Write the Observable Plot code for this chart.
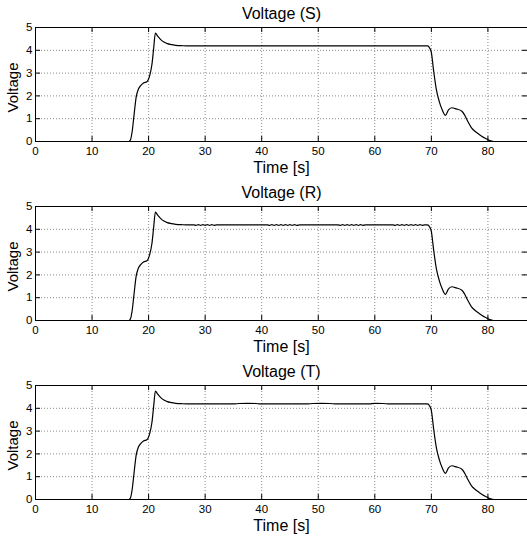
<!DOCTYPE html>
<html>
<head>
<meta charset="utf-8">
<script src="https://cdn.jsdelivr.net/npm/d3@7"></script>
<script src="https://cdn.jsdelivr.net/npm/@observablehq/plot@0.6"></script>
<style>
  body { margin: 0; background: white; }
  #chart svg { display: block; }
</style>
</head>
<body>
<div id="chart"></div>
<script>
const titles = ["Voltage (S)", "Voltage (R)", "Voltage (T)"];
const xTicks = [0, 10, 20, 30, 40, 50, 60, 70, 80];
const yTicks = [0, 1, 2, 3, 4, 5];

// S phase
const tS = [0, 16.5, 16.8, 17.1, 17.4, 17.8, 18.2, 18.6, 19.1, 19.7, 20.2, 20.6, 20.9, 21.2, 21.6, 22.1, 22.7, 23.3, 24.0, 24.8, 26.0, 27.5,
            69.3, 69.7, 70.0, 70.4, 70.9, 71.4, 71.9, 72.5, 73.0, 73.6, 74.4, 75.4, 75.9, 76.4, 77.1, 77.7, 78.4, 79.3, 80.2, 81.0, 87];
const vS = [0, 0, 0.08, 0.45, 1.1, 1.95, 2.3, 2.45, 2.57, 2.62, 2.9, 3.4, 4.1, 4.75, 4.62, 4.48, 4.36, 4.29, 4.25, 4.22, 4.2, 4.19,
            4.19, 4.1, 3.9, 3.1, 2.25, 1.75, 1.4, 1.15, 1.38, 1.48, 1.43, 1.33, 1.15, 0.9, 0.6, 0.45, 0.32, 0.17, 0.05, 0, 0];

// R phase (noisy flat segments)
const tR = [0, 16.5, 16.8, 17.1, 17.4, 17.8, 18.2, 18.6, 19.1, 19.7, 20.2, 20.6, 20.9, 21.2, 21.6, 22.1, 22.7, 23.3, 24.0, 24.8, 26.0, 27.5,
            28.0, 28.4, 28.8, 29.2, 29.6, 30.0, 30.4, 30.8, 31.2, 31.6, 32.0,
            41.0, 41.4, 41.8, 42.2, 42.6, 43.0, 43.4, 43.8, 44.2, 44.6, 45.0, 45.4, 45.8, 46.2, 46.8,
            53.5, 53.9, 54.3, 54.7, 55.1, 55.5, 55.9, 56.3, 56.7, 57.1, 57.5, 57.9, 58.3,
            63.2, 63.6, 64.0, 64.4, 64.8, 65.2, 65.6, 66.0, 66.4, 66.8, 67.2, 67.6, 68.0, 68.4, 68.8,
            69.3, 69.7, 70.0, 70.4, 70.9, 71.4, 71.9, 72.5, 73.0, 73.6, 74.4, 75.4, 75.9, 76.4, 77.1, 77.7, 78.4, 79.3, 80.2, 81.0, 87];
const vR = [0, 0, 0.08, 0.45, 1.1, 1.95, 2.3, 2.45, 2.57, 2.62, 2.9, 3.4, 4.1, 4.75, 4.62, 4.48, 4.36, 4.29, 4.25, 4.22, 4.2, 4.19,
            4.19, 4.175, 4.205, 4.175, 4.205, 4.175, 4.205, 4.175, 4.205, 4.175, 4.19,
            4.19, 4.175, 4.205, 4.175, 4.205, 4.175, 4.205, 4.175, 4.205, 4.175, 4.205, 4.175, 4.205, 4.175, 4.19,
            4.19, 4.175, 4.205, 4.175, 4.205, 4.175, 4.205, 4.175, 4.205, 4.175, 4.205, 4.175, 4.19,
            4.19, 4.175, 4.205, 4.175, 4.205, 4.175, 4.205, 4.175, 4.205, 4.175, 4.205, 4.175, 4.205, 4.175, 4.19,
            4.19, 4.1, 3.9, 3.1, 2.25, 1.75, 1.4, 1.15, 1.38, 1.48, 1.43, 1.33, 1.15, 0.9, 0.6, 0.45, 0.32, 0.17, 0.05, 0, 0];

// T phase (small bumps on flat part)
const tT = [0, 16.5, 16.8, 17.1, 17.4, 17.8, 18.2, 18.6, 19.1, 19.7, 20.2, 20.6, 20.9, 21.2, 21.6, 22.1, 22.7, 23.3, 24.0, 24.8, 26.0, 27.5,
            35.0, 36.0, 37.5, 39.0, 39.7, 48.0, 49.0, 50.5, 52.0, 53.3, 59.0, 60.0, 61.5, 62.6,
            69.3, 69.7, 70.0, 70.4, 70.9, 71.4, 71.9, 72.5, 73.0, 73.6, 74.4, 75.4, 75.9, 76.4, 77.1, 77.7, 78.4, 79.3, 80.2, 81.0, 87];
const vT = [0, 0, 0.08, 0.45, 1.1, 1.95, 2.3, 2.45, 2.57, 2.62, 2.9, 3.4, 4.1, 4.75, 4.62, 4.48, 4.36, 4.29, 4.25, 4.22, 4.2, 4.19,
            4.19, 4.21, 4.215, 4.21, 4.19, 4.19, 4.21, 4.215, 4.21, 4.19, 4.19, 4.215, 4.21, 4.19,
            4.19, 4.1, 3.9, 3.1, 2.25, 1.75, 1.4, 1.15, 1.38, 1.48, 1.43, 1.33, 1.15, 0.9, 0.6, 0.45, 0.32, 0.17, 0.05, 0, 0];

const series = [[tS, vS], [tR, vR], [tT, vT]];

const W = 527, H = 179, MT = 27, MB = 38, ML = 35, MR = 0;
const PH = H - MT - MB, PW = W - ML - MR;
const font = "'Liberation Sans', Arial, Helvetica, sans-serif";

series.forEach(([t, v], i) => {
  const data = t.map((x, j) => ({t: x, v: v[j]}));
  const p = Plot.plot({
    width: W, height: H,
    marginTop: MT, marginBottom: MB, marginLeft: ML, marginRight: MR,
    style: {fontFamily: font, fontSize: "11px", color: "black", background: "white", overflow: "visible"},
    x: {domain: [0, 87]},
    y: {domain: [0, 5]},
    marks: [
      Plot.gridX(xTicks, {stroke: "#8a8a8a", strokeOpacity: 1, strokeDasharray: "1,2"}),
      Plot.gridY(yTicks, {stroke: "#8a8a8a", strokeOpacity: 1, strokeDasharray: "1,2"}),
      Plot.tickX(xTicks, {x: d => d, insetTop: PH - 5, stroke: "black"}),
      Plot.tickX(xTicks, {x: d => d, insetBottom: PH - 5, stroke: "black"}),
      Plot.tickY(yTicks, {y: d => d, insetRight: PW - 5, stroke: "black"}),
      Plot.tickY(yTicks, {y: d => d, insetLeft: PW - 5, stroke: "black"}),
      Plot.axisX(xTicks, {anchor: "bottom", tickSize: 0, tickPadding: 5, label: null, fontSize: 11.5}),
      Plot.axisY(yTicks, {anchor: "left", tickSize: 0, tickPadding: 3, label: null, fontSize: 11.5}),
      Plot.line(data, {x: "t", y: "v", stroke: "black", strokeWidth: 1.2, curve: "monotone-x"}),
      Plot.frame({stroke: "black", strokeWidth: 1}),
      Plot.text([titles[i]], {text: d => d, frameAnchor: "top", lineAnchor: "middle", textAnchor: "middle", dy: -14, fontSize: 16}),
      Plot.text(["Time [s]"], {text: d => d, frameAnchor: "bottom", lineAnchor: "middle", textAnchor: "middle", dy: 26, fontSize: 16}),
      Plot.text(["Voltage"], {text: d => d, frameAnchor: "left", lineAnchor: "middle", textAnchor: "middle", rotate: -90, dx: -22, dy: 3, fontSize: 15})
    ]
  });
  document.getElementById("chart").appendChild(p);
});
</script>
</body>
</html>
